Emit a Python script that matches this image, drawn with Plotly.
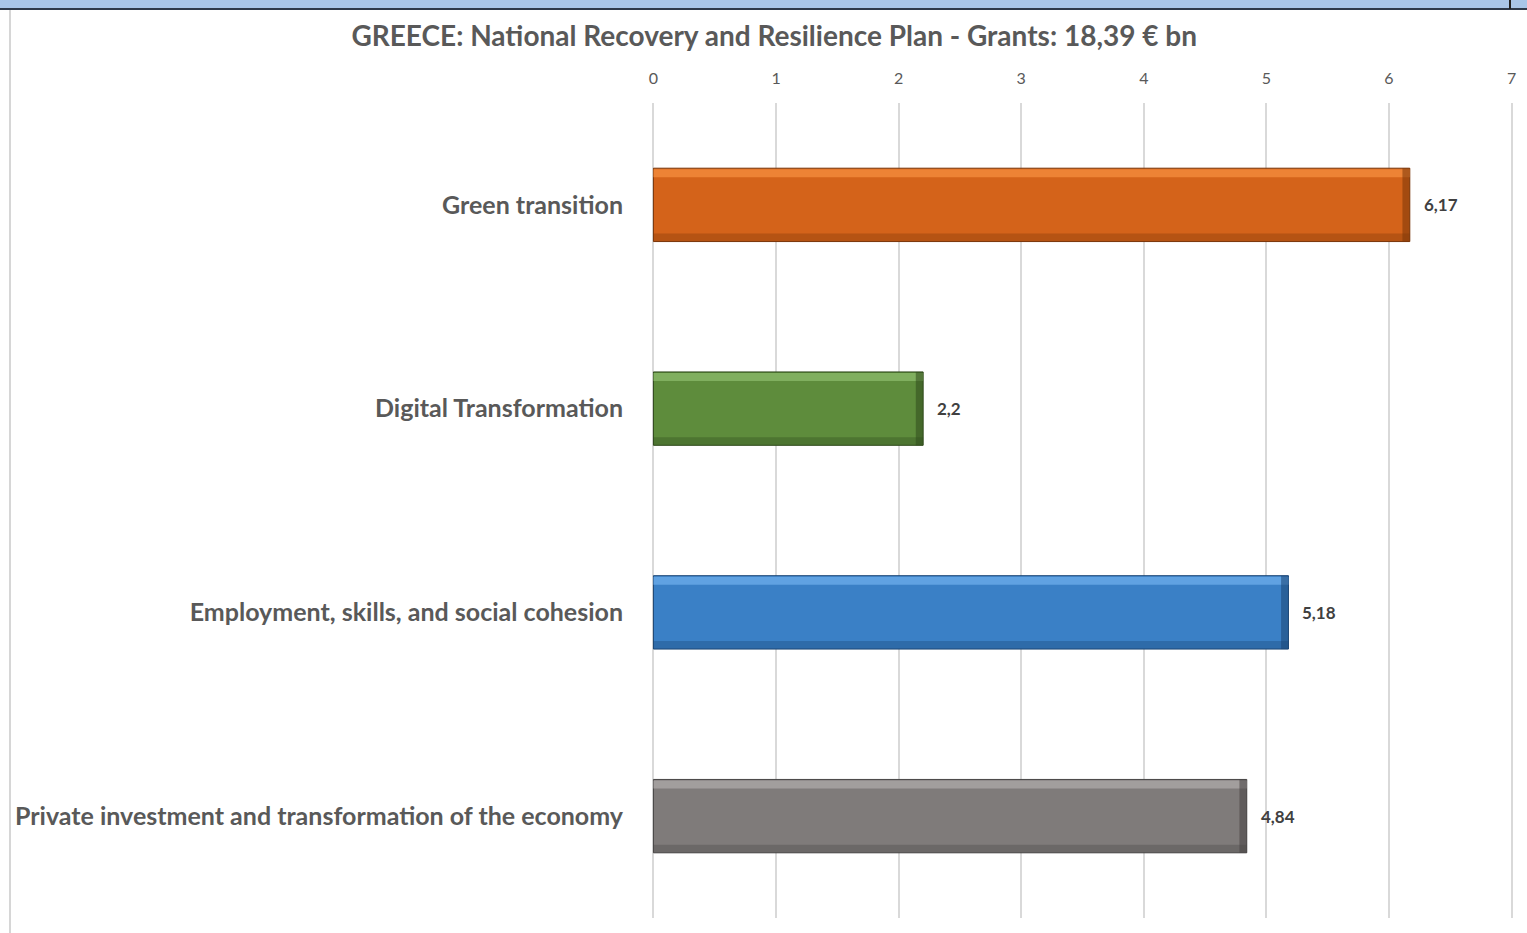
import plotly.graph_objects as go

categories = [
    "Green transition",
    "Digital Transformation",
    "Employment, skills, and social cohesion",
    "Private investment and transformation of the economy",
]
values = [6.17, 2.2, 5.18, 4.84]
value_labels = ["6,17", "2,2", "5,18", "4,84"]
base_colors = ["#D4631A", "#5E8C3C", "#3A80C6", "#7F7B7A"]
light_colors = ["#F28B3C", "#88B868", "#6AAAE8", "#ABA7A6"]
dark_colors = ["#7A360A", "#2F4A1C", "#1B4674", "#474444"]
x_ticks = [0, 1, 2, 3, 4, 5, 6, 7]

TITLE = "GREECE: National Recovery and Resilience Plan - Grants: 18,39 € bn"
FONT = "Lato, Open Sans, sans-serif"

BW = 0.36
EDGE = 0.04

fig = go.Figure()

# main bars
fig.add_trace(go.Bar(
    y=categories, x=values, orientation="h",
    width=BW, offset=-BW / 2,
    marker=dict(color=base_colors, line=dict(color=dark_colors, width=1)),
    hoverinfo="skip", showlegend=False,
))
# top highlight strip
fig.add_trace(go.Bar(
    y=categories, x=values, orientation="h",
    width=EDGE, offset=BW / 2 - EDGE - 0.005,
    marker=dict(color=light_colors, line=dict(width=0), opacity=0.8),
    hoverinfo="skip", showlegend=False,
))
# bottom shadow strip
fig.add_trace(go.Bar(
    y=categories, x=values, orientation="h",
    width=EDGE, offset=-BW / 2,
    marker=dict(color=dark_colors, line=dict(width=0), opacity=0.35),
    hoverinfo="skip", showlegend=False,
))
# right edge shadow
fig.add_trace(go.Bar(
    y=categories, x=[0.06] * len(values), base=[v - 0.06 for v in values],
    orientation="h", width=BW, offset=-BW / 2,
    marker=dict(color=dark_colors, line=dict(width=0), opacity=0.55),
    hoverinfo="skip", showlegend=False,
))

for c, v, t in zip(categories, values, value_labels):
    fig.add_annotation(
        x=v, y=c, text="<b>" + t + "</b>", showarrow=False,
        xanchor="left", xshift=12,
        font=dict(family=FONT, size=17, color="#404040"),
    )

L, R = 651, 1514
PW = R - L


def px(x):
    return (x - L) / PW


def py(y):
    return (918 - y) / 815


fig.update_layout(
    width=1527, height=933,
    margin=dict(l=L, r=1527 - R, t=103, b=15),
    paper_bgcolor="white", plot_bgcolor="white",
    barmode="overlay",
    title=dict(
        text="<b>" + TITLE + "</b>",
        x=0.507, xanchor="center", y=0.961, yanchor="middle",
        font=dict(family=FONT, size=28, color="#595959"),
    ),
    xaxis=dict(
        side="top", range=[-0.02, 7.02], tickvals=x_ticks,
        showgrid=True, gridcolor="#D9D9D9", gridwidth=1.5,
        zeroline=True, zerolinecolor="#D9D9D9", zerolinewidth=1.5,
        showline=False, ticks="",
        tickfont=dict(family=FONT, size=16, color="#595959"),
        ticklabelstandoff=15,
    ),
    yaxis=dict(
        categoryorder="array", categoryarray=categories[::-1],
        range=[-0.5, 3.5],
        showgrid=False, zeroline=False, showline=False, ticks="",
        tickfont=dict(family=FONT, size=25, color="#595959"),
        ticklabelstandoff=27,
    ),
    shapes=[
        dict(type="rect", xref="paper", yref="paper",
             x0=px(-20), x1=px(1540), y0=py(8), y1=py(-20),
             fillcolor="#A9C6E8", line=dict(width=0), layer="above"),
        dict(type="line", xref="paper", yref="paper",
             x0=px(-20), x1=px(1540), y0=py(9), y1=py(9),
             line=dict(color="#2F3A4A", width=2)),
        dict(type="line", xref="paper", yref="paper",
             x0=px(1510), x1=px(1510), y0=py(9), y1=py(-20),
             line=dict(color="#222222", width=2)),
        dict(type="line", xref="paper", yref="paper",
             x0=px(10), x1=px(10), y0=py(960), y1=py(10),
             line=dict(color="#C8C8C8", width=1.5)),
    ],
)

# make the category labels bold
fig.update_yaxes(ticktext=["<b>" + c + "</b>" for c in categories[::-1]],
                 tickvals=categories[::-1])

fig.write_html(
    "out.html",
    config={"displayModeBar": False},
    post_script="document.body.style.margin='0';document.body.style.overflow='hidden';",
)
